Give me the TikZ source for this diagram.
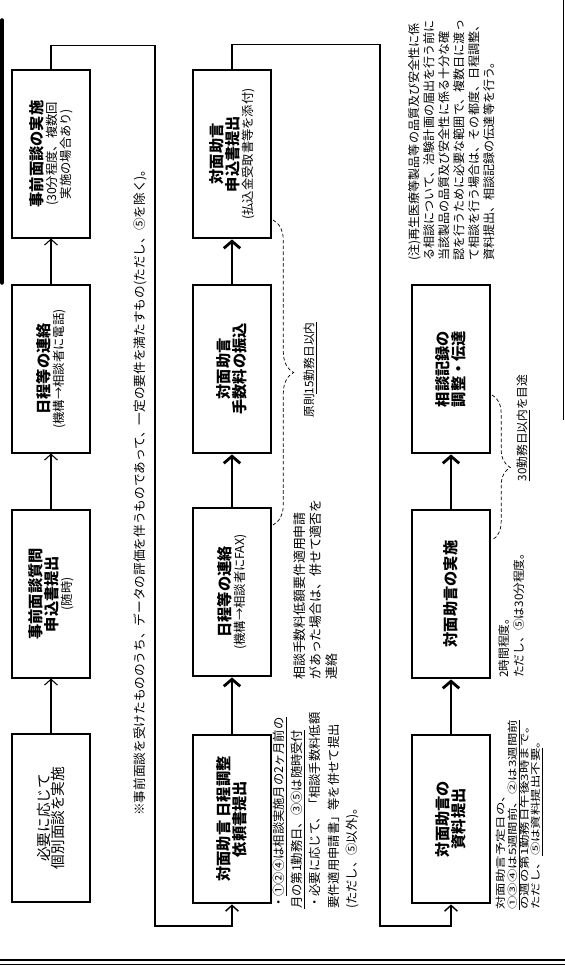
\documentclass[tikz,border=0pt]{standalone}
\usepackage{fontspec}
\setmainfont{Noto Sans CJK JP}
\usetikzlibrary{arrows.meta, decorations.pathreplacing}

\newcommand{\boxtitle}[1]{{\fontsize{13}{16}\selectfont\bfseries #1}}
\newcommand{\boxnote}[1]{{\fontsize{10.5}{13}\selectfont #1}}
\newcommand{\boxplain}[1]{{\fontsize{12.5}{16}\selectfont #1}}

\begin{document}
\begin{tikzpicture}[
				x=0.03cm, y=0.03cm, rotate=90, transform shape,
				pre/.style={draw, line width=0.9pt, minimum width=5.04cm, minimum height=2.34cm, align=center, inner sep=2pt},
				main/.style={pre, line width=2.4pt},
				prearrow/.style={line width=0.9pt, -{Straight Barb[length=5pt, width=11pt]}},
				mainarrow/.style={line width=2.4pt, -{Straight Barb[length=6pt, width=14pt]}},
				link/.style={line width=1.2pt, -{Straight Barb[length=5pt, width=11pt]}},
				brc/.style={decorate, densely dashed, line width=0.6pt},
				memo/.style={anchor=north west, inner sep=0pt, align=left},
				]
				
				\useasboundingbox (0,0) rectangle (967,565);
				\clip (0,0) rectangle (967,565);
				
				%% ── Row 1: preliminary meeting ────────────────────────────────────────
				\node[pre] (A) at (149,514) {\boxplain{必要に応じて}\\\boxplain{個別面談を実施}};
				\node[pre] (B) at (373,514) {\boxtitle{事前面談質問}\\\boxtitle{申込書提出}\\\boxnote{(随時)}};
				\node[pre] (C) at (598,514) {\boxtitle{日程等の連絡}\\\boxnote{(機構→相談者に電話)}};
				\node[pre] (D) at (813,514) {\boxtitle{事前面談の実施}\\\boxnote{(30分程度、複数回}\\\boxnote{実施の場合あり)}};
				
				\draw[prearrow] (A) -- (B);
				\draw[prearrow] (B) -- (C);
				\draw[prearrow] (C) -- (D);
				
				\node[anchor=west, font=\fontsize{10.8}{13}\selectfont] (remark) at (147,425)
				{※事前面談を受けたもののうち、データの評価を伴うものであって、一定の要件を満たすもの(ただし、⑤を除く)。};
				
				%% ── Row 2: application ────────────────────────────────────────────────
				\node[main] (E) at (148,333) {\boxtitle{対面助言\ 日程調整}\\\boxtitle{依頼書提出}};
				\node[main] (F) at (375,333) {\boxtitle{日程等の連絡}\\\boxnote{(機構→相談者にFAX)}};
				\node[main] (G) at (598,333) {\boxtitle{対面助言}\\\boxtitle{手数料の振込}};
				\node[main] (H) at (813,333) {\boxtitle{対面助言}\\\boxtitle{申込書提出}\\\boxnote{(払込金受取書等を添付)}};
				
				\draw[mainarrow] (E) -- (F);
				\draw[mainarrow] (F) -- (G);
				\draw[mainarrow] (G) -- (H);
				
				\coordinate (turn1) at (41,410);
				\draw[link] (D.east) -- ++(24,0) |- (turn1) |- (E.west);
				
				\node[memo, font=\fontsize{10.5}{15.5}\selectfont] (noteE) at (58,292)
				{・\underline{①②④は相談実施月の2ヶ月前の}\\
				 \underline{月の第1勤務日、③⑤は随時受付}\\
				 ・必要に応じて、「相談手数料低額\\
				 要件適用申請書」等を併せて提出\\
				 (ただし、⑤以外)。};
				\node[memo, font=\fontsize{11}{14}\selectfont] (noteF) at (287,272)
				{相談手数料低額要件適用申請\\があった場合は、併せて適否を\\連絡};
				
				\coordinate (brace1s) at (747,292);
				\coordinate (brace1e) at (442,292);
				\draw[brc, decoration={brace, amplitude=0.62cm}] (brace1s) -- (brace1e);
				\node[font=\fontsize{10}{12}\selectfont] (rule15) at (597,255) {原則\underline{15勤務日以内}};
				
				%% ── Row 3: consultation ───────────────────────────────────────────────
				\node[main] (I) at (148,114) {\boxtitle{対面助言の}\\\boxtitle{資料提出}};
				\node[main] (J) at (373,114) {\boxtitle{対面助言の実施}};
				\node[main] (K) at (598,114) {\boxtitle{相談記録の}\\\boxtitle{調整・伝達}};
				
				\draw[mainarrow] (I) -- (J);
				\draw[mainarrow] (J) -- (K);
				
				\coordinate (turn2) at (41,185);
				\draw[link] (H.east) -- ++(24,0) |- (turn2) |- (I.west);
				
				\begin{scope}[shift={(57,69)}, xscale=1.35]
					\node[memo, font=\fontsize{8.5}{10}\selectfont] (noteI) at (0,0)
					{対面助言予定日の、\\
					 \underline{①③④は5週間前、②は3週間前}\\
					 の週の第1勤務日午後3時まで。\\
					 ただし、\underline{⑤は資料提出不要}。};
				\end{scope}
				\node[memo, font=\fontsize{10}{12.8}\selectfont] (noteJ) at (289,67)
				{2時間程度。\\ただし、⑤は30分程度。};
				
				\coordinate (brace2s) at (572,73);
				\coordinate (brace2e) at (427,73);
				\draw[brc, decoration={brace, amplitude=0.55cm}] (brace2s) -- (brace2e);
				\node[font=\fontsize{10}{12}\selectfont] (rule30) at (539,42) {\underline{30勤務日以内}を目途};
				
				%% ── Remark and page edges ─────────────────────────────────────────────
				\node[memo, font=\fontsize{10.3}{12.8}\selectfont] (caution) at (706,157)
				{(注)再生医療等製品等の品質及び安全性に係\\
				 る相談について、治験計画の届出を行う前に\\
				 当該製品の品質及び安全性に係る十分な確\\
				 認を行うために必要な範囲で、複数日に渡っ\\
				 て相談を行う場合は、その都度、日程調整、\\
				 資料提出、相談記録の伝達等を行う。};
				
				\draw[line width=3pt, line cap=round] (684,563) -- (947,563);
				\draw[line width=0.6pt] (547,2) -- (967,2);
				\draw[line width=1.8pt] (7,0) -- (7,565);
				\draw[line width=0.7pt] (2.5,0) -- (2.5,565);
				
			\end{tikzpicture}
\end{document}
